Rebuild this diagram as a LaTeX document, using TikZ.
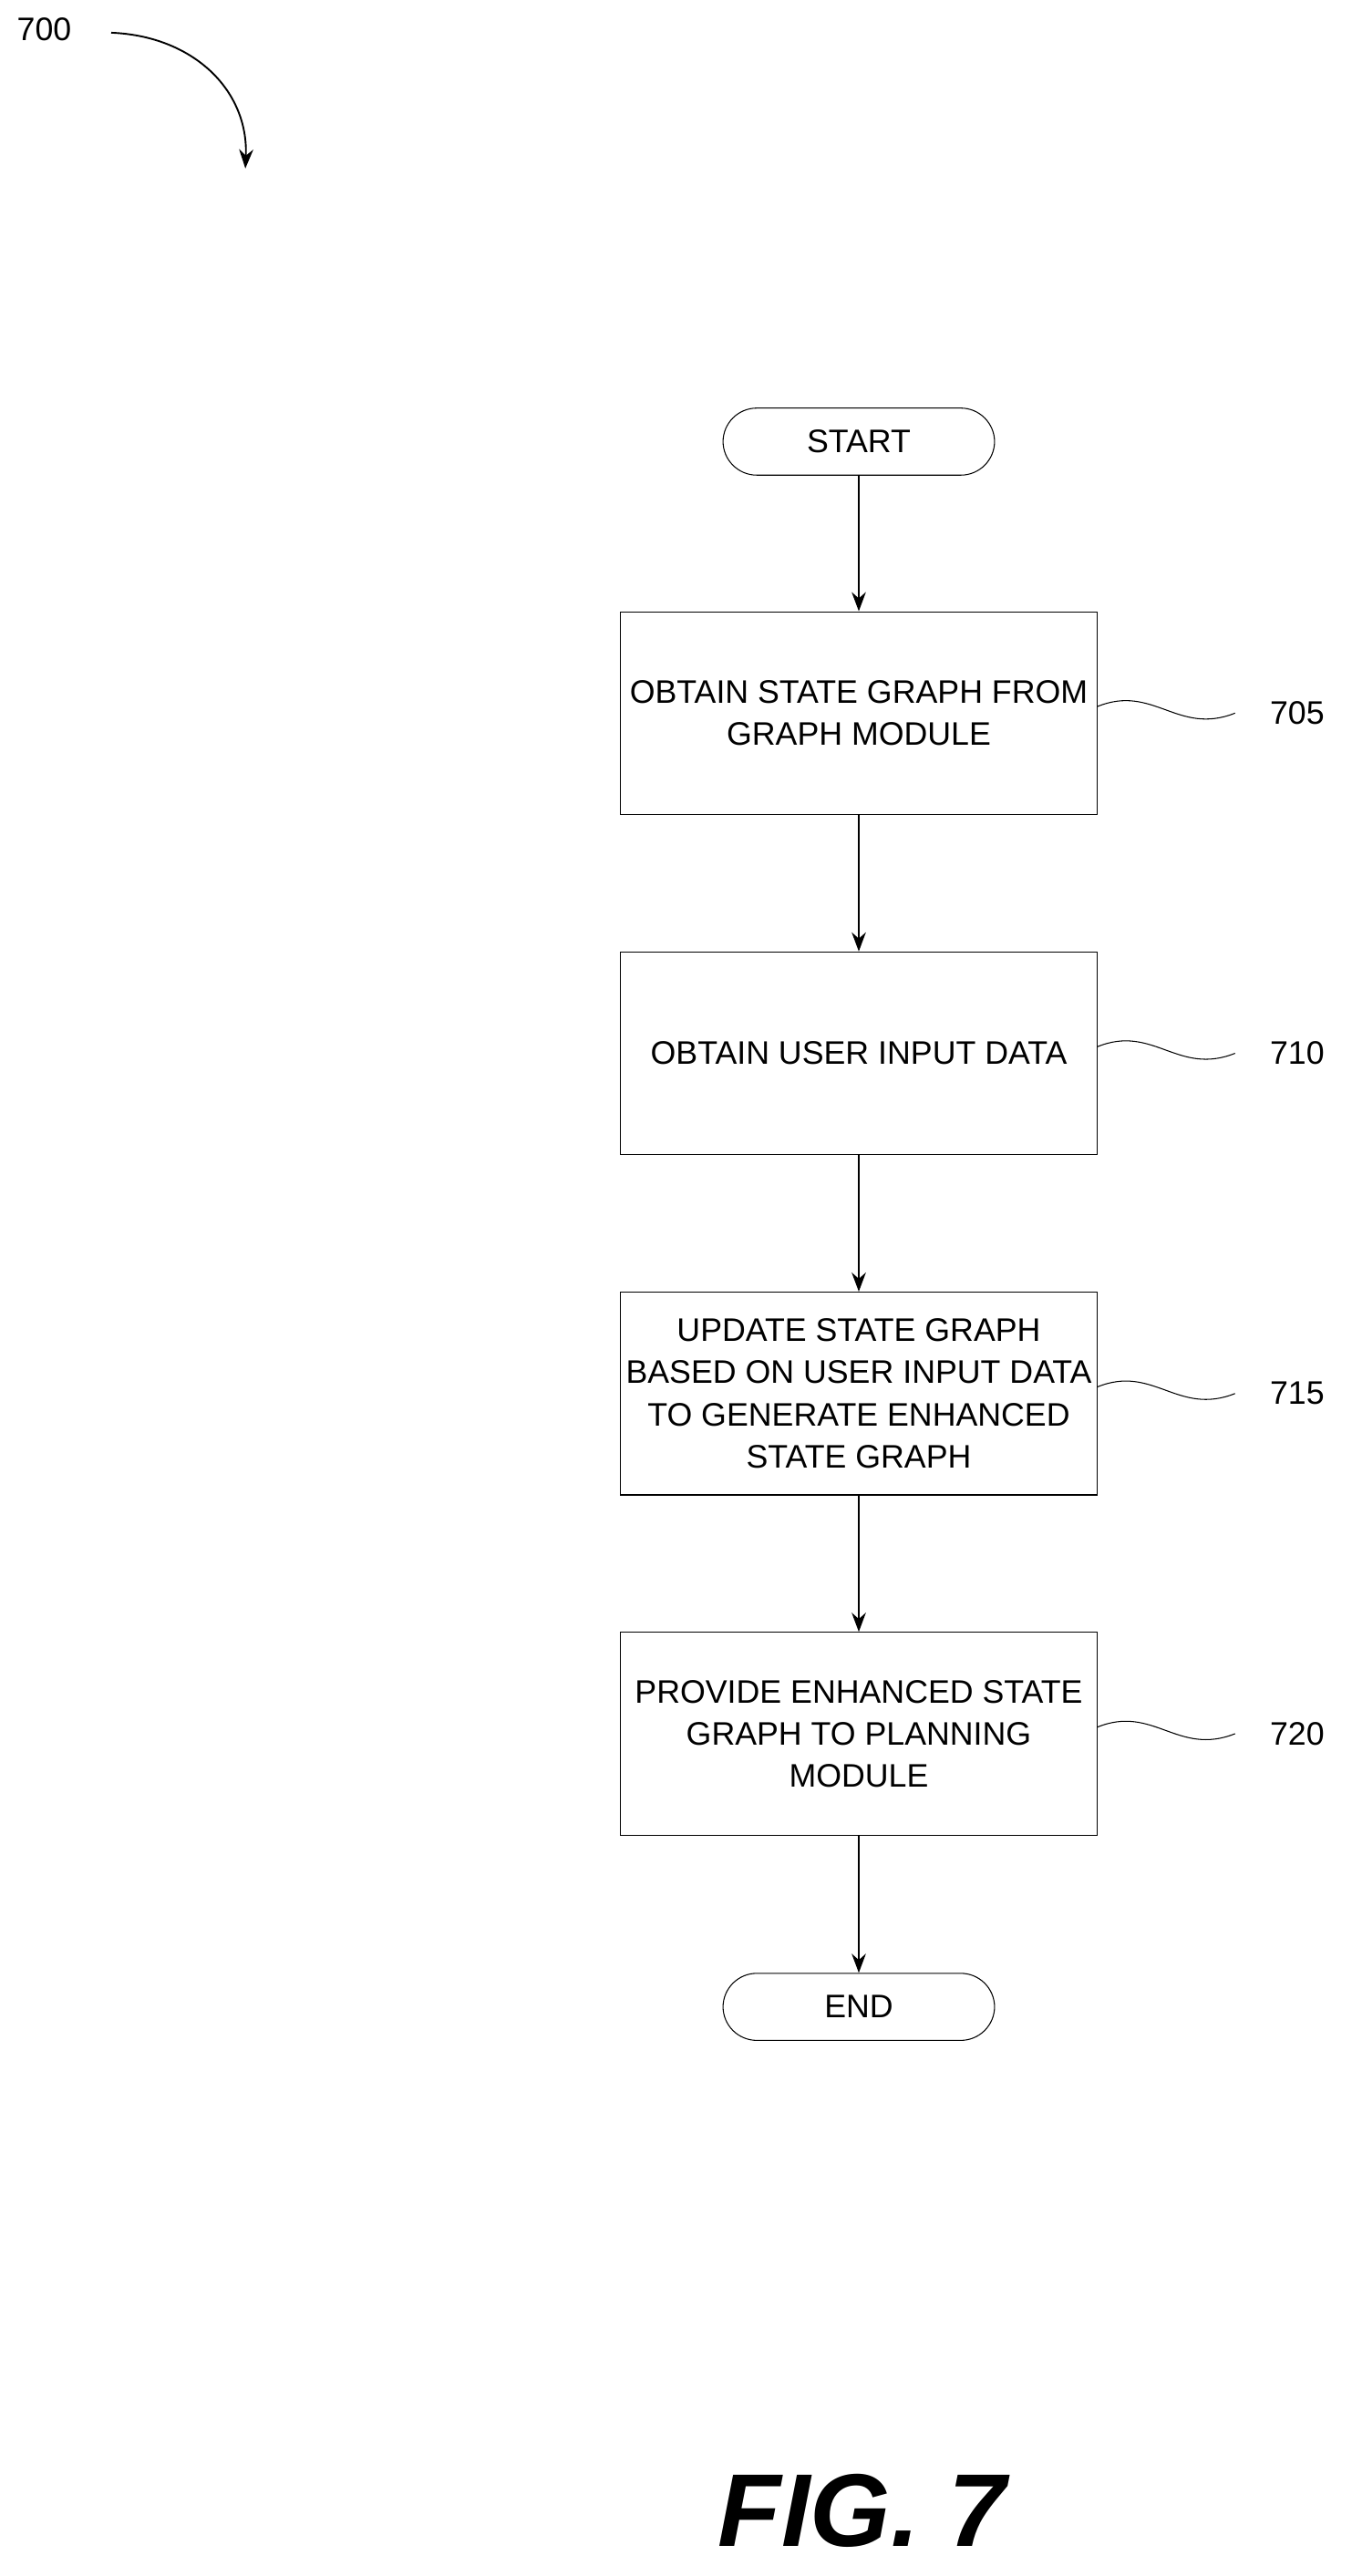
\documentclass[tikz,border=0pt]{standalone}
\usepackage{fontspec}
\setmainfont{Liberation Sans}
\usetikzlibrary{arrows.meta}
\begin{document}
\begin{tikzpicture}[x=0.3mm,y=-0.3mm,
  box/.style={draw,line width=0.5pt,minimum width=291*0.3mm,minimum height=124*0.3mm,align=center,font=\fontsize{17}{22}\selectfont,inner sep=0pt},
  term/.style={draw,line width=0.5pt,rounded corners=6.2mm,minimum width=166*0.3mm,minimum height=41*0.3mm,font=\fontsize{17}{22}\selectfont},
  arr/.style={-{Stealth[length=3.5mm,width=2.6mm]},line width=0.9pt},
  lbl/.style={font=\fontsize{17}{22}\selectfont},
  wave/.style={line width=0.5pt}]
\useasboundingbox (0,0) rectangle (826,1575);
\node[term] (s) at (525,270) {START};
\node[box] (b1) at (525,436) {OBTAIN STATE GRAPH FROM\\GRAPH MODULE};
\node[box] (b2) at (525,644) {OBTAIN USER INPUT DATA};
\node[box] (b3) at (525,852) {UPDATE STATE GRAPH\\BASED ON USER INPUT DATA\\TO GENERATE ENHANCED\\STATE GRAPH};
\node[box] (b4) at (525,1060) {PROVIDE ENHANCED STATE\\GRAPH TO PLANNING\\MODULE};
\node[term] (e) at (525,1227) {END};
\draw[arr] (s) -- (b1);
\draw[arr] (b1) -- (b2);
\draw[arr] (b2) -- (b3);
\draw[arr] (b3) -- (b4);
\draw[arr] (b4) -- (e);
\foreach \n/\t/\y in {b1/705/436,b2/710/644,b3/715/852,b4/720/1060}{
  \node[lbl] (l\t) at (793,\y) {\t};
  \coordinate (w\t) at (755,\y);
  \draw[wave] (\n.east |- 0,\y-4) .. controls (705,\y-18) and (720,\y+14) .. (w\t);
}
\node[lbl] (l700) at (27,18) {700};
\coordinate (a700) at (150,103);
\draw[arr] (68,20) .. controls (118,22) and (152,55) .. (a700);
\node[font=\fontsize{54}{60}\selectfont\bfseries\itshape] (fig) at (527,1535) {FIG. 7};
\end{tikzpicture}
\end{document}
